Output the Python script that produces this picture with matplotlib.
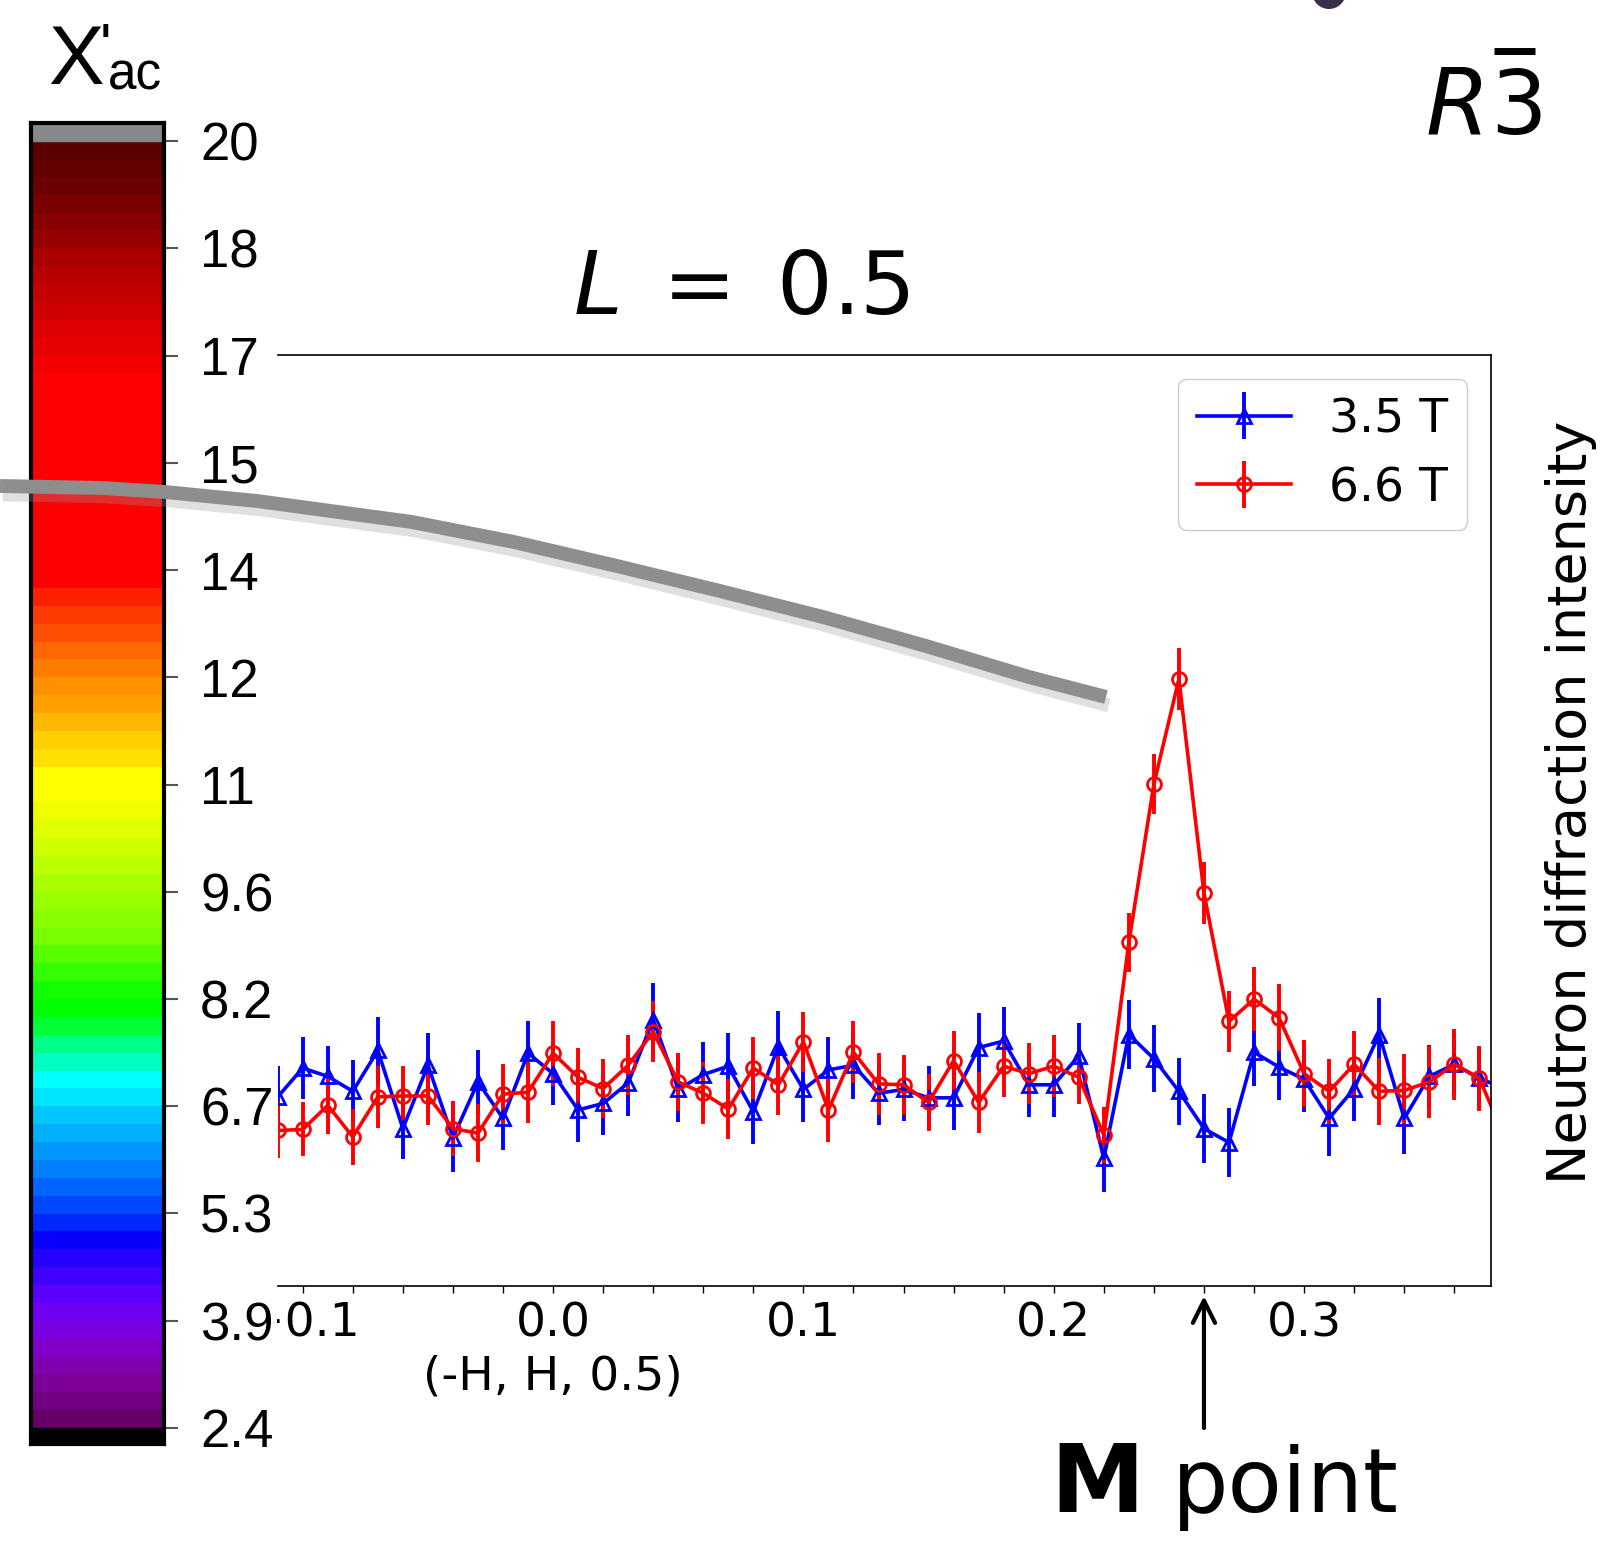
import numpy as np
import matplotlib
matplotlib.use("Agg")
import matplotlib.pyplot as plt
import matplotlib.patheffects as pe
from matplotlib import transforms
from matplotlib.colors import to_rgb
from matplotlib.lines import Line2D
from matplotlib.patches import Ellipse, Rectangle
from matplotlib.ticker import MultipleLocator

# ---- data (arbitrary intensity units) ----
h = [-0.11, -0.10, -0.09, -0.08, -0.07, -0.06, -0.05, -0.04, -0.03, -0.02,
     -0.01, 0.00, 0.01, 0.02, 0.03, 0.04, 0.05, 0.06, 0.07, 0.08,
     0.09, 0.10, 0.11, 0.12, 0.13, 0.14, 0.15, 0.16, 0.17, 0.18,
     0.19, 0.20, 0.21, 0.22, 0.23, 0.24, 0.25, 0.26, 0.27, 0.28,
     0.29, 0.30, 0.31, 0.32, 0.33, 0.34, 0.35, 0.36, 0.37, 0.38]

int_35T = [20.3, 23.4, 22.5, 20.9, 25.3, 16.9, 23.7, 15.9, 21.9, 18.0,
           25.0, 22.8, 18.9, 19.6, 21.8, 28.6, 21.1, 22.7, 23.6, 18.7,
           25.7, 21.1, 23.2, 23.7, 20.7, 21.1, 20.2, 20.2, 25.6, 26.3,
           21.6, 21.6, 24.7, 13.7, 27.0, 24.4, 20.9, 16.9, 15.4, 25.1,
           23.5, 22.2, 18.0, 21.2, 27.0, 18.0, 22.5, 23.8, 22.3, 21.2]
err_35T = [3.3, 3.3, 3.3, 3.4, 3.6, 3.3, 3.5, 3.7, 3.4, 3.4,
           3.5, 3.4, 3.4, 3.4, 3.5, 3.9, 3.5, 3.5, 3.6, 3.5,
           3.8, 3.5, 3.5, 3.6, 3.4, 3.4, 3.4, 3.5, 3.7, 3.7,
           3.5, 3.5, 3.5, 3.6, 3.7, 3.6, 3.6, 3.7, 3.7, 3.6,
           3.5, 3.5, 4.0, 3.5, 3.9, 3.8, 3.4, 3.3, 3.3, 3.3]

int_66T = [16.7, 16.8, 19.4, 16.0, 20.3, 20.4, 20.4, 16.9, 16.4, 20.6,
           20.8, 25.0, 22.4, 21.2, 23.7, 27.3, 21.9, 20.7, 19.0, 23.4,
           21.6, 26.2, 18.9, 25.1, 21.7, 21.6, 19.7, 24.2, 19.7, 23.6,
           22.8, 23.6, 22.4, 16.2, 36.9, 53.9, 65.2, 42.2, 28.4, 30.8,
           28.8, 22.8, 20.9, 23.8, 20.9, 21.0, 21.9, 23.8, 22.3, 16.0]
err_66T = [3.0, 2.9, 3.1, 3.0, 3.3, 3.2, 3.1, 3.0, 3.1, 3.2,
           3.3, 3.5, 3.2, 3.2, 3.2, 3.3, 3.1, 3.3, 3.2, 3.3,
           3.2, 3.2, 3.4, 3.3, 3.3, 3.2, 3.1, 3.2, 3.3, 3.3,
           3.3, 3.3, 2.9, 3.0, 3.2, 3.2, 3.3, 3.3, 3.3, 3.4,
           3.6, 3.6, 3.5, 3.6, 3.6, 3.9, 3.9, 3.8, 3.5, 3.5]

xticks = [-0.1, 0.0, 0.1, 0.2, 0.3]
xtick_labels = ["\u22120.1", "0.0", "0.1", "0.2", "0.3"]
m_point_h = 0.26

# colour scale of the chi'_ac bar, bottom band first (6 bands per tick step)
cbar_labels = ["2.4", "3.9", "5.3", "6.7", "8.2", "9.6", "11", "12",
               "14", "15", "17", "18", "20"]
cbar_colors = [
    "#640068", "#700080", "#7a0098", "#8000b0", "#8000c8", "#7a00e0",
    "#7000f0", "#5c00ff", "#4000ff", "#2400ff", "#0800ff", "#0028ff",
    "#0048ff", "#0064ff", "#0080ff", "#0098ff", "#00b0ff", "#00c8ff",
    "#00e6ff", "#00ffff", "#00ffc0", "#00ff88", "#00ff33", "#00ff00",
    "#11ff00", "#33ff00", "#55ff00", "#77ff00", "#88ff00", "#99ff00",
    "#a8ff00", "#bbff00", "#d0ff00", "#e0ff00", "#f0ff00", "#ffff00",
    "#ffff00", "#ffe000", "#ffd000", "#ffb800", "#ffa000", "#ff9000",
    "#ff7c00", "#ff6800", "#ff5000", "#ff3c00", "#ff2000", "#ff0000",
    "#ff0000", "#ff0000", "#ff0000", "#ff0000", "#ff0000", "#ff0000",
    "#ff0000", "#ff0000", "#ff0000", "#ff0000", "#ff0000", "#f40000",
    "#e60000", "#dc0000", "#d00000", "#c40000", "#b80000", "#aa0000",
    "#960000", "#880000", "#7a0000", "#6c0000", "#620000", "#5a0000",
]

# hand-drawn grey stroke (figure pixels, y from top)
stroke_px = [(0, 486), (103, 488), (165, 492), (257, 501), (412, 522),
             (514, 542), (617, 566), (720, 591), (823, 617), (926, 646),
             (1029, 677), (1106, 697)]

W, HT = 1613, 1541


def fx(px):
    return px / W


def fy(py):
    return 1 - py / HT


fig = plt.figure(figsize=(W / 100, HT / 100), dpi=100)

# ---- main panel ----
ax = fig.add_axes([fx(277.7), fy(1285.9), (1490.6 - 277.7) / W, (1285.9 - 354.9) / HT])
ax.errorbar(h, int_35T, yerr=err_35T, color="blue", marker="^", ms=10,
            mfc="none", mec="blue", mew=2, lw=2.6, elinewidth=2.8, capsize=0,
            label="3.5 T")
ax.errorbar(h, int_66T, yerr=err_66T, color="red", marker="o", ms=10,
            mfc="none", mec="red", mew=2, lw=2.6, elinewidth=2.8, capsize=0,
            label="6.6 T")
ax.set_xlim(-0.11, 0.3745)
ax.set_ylim(0, 100)
ax.set_yticks([])
ax.spines["left"].set_visible(False)
for s in ["top", "right", "bottom"]:
    ax.spines[s].set_linewidth(1.2)
ax.set_xticks(xticks)
ax.set_xticklabels(xtick_labels)
ax.xaxis.set_minor_locator(MultipleLocator(0.02))
ax.tick_params(axis="x", which="both", direction="out", length=5, width=1,
               labelsize=34, pad=6)
leg = ax.legend(loc="upper right", fontsize=34, handlelength=2.0,
                fancybox=True, edgecolor="#cccccc", framealpha=1)

blend = transforms.blended_transform_factory(ax.transData, fig.transFigure)
ax.text(0.0, fy(1377), "(-H, H, 0.5)", transform=blend, ha="center",
        va="center", fontsize=34)
ax.annotate("", xy=(m_point_h, fy(1296)), xytext=(m_point_h, fy(1428)),
            xycoords=blend, textcoords=blend, annotation_clip=False,
            arrowprops=dict(arrowstyle="->", lw=3, mutation_scale=40,
                            color="black", shrinkA=0, shrinkB=0))

# ---- pasted colour bar (covers the left of the panel) ----
fig.add_artist(Rectangle((0, 0), fx(277), 1, transform=fig.transFigure,
                         facecolor="white", edgecolor="none", zorder=2))
cax = fig.add_axes([fx(31), fy(1444), (164 - 31) / W, (1444 - 123) / HT])
cax.set_zorder(3)
band_rgb = np.array([to_rgb(c) for c in cbar_colors]).reshape(-1, 1, 3)
cax.imshow(band_rgb, origin="lower", aspect="auto", extent=[0, 1, 0, 12],
           interpolation="nearest")
cax.axhspan(12, 12.3, color="#888888")
cax.axhspan(-0.3, 0, color="black")
cax.set_xlim(0, 1)
cax.set_ylim(-0.15, 12.17)
cax.set_xticks([])
for s in cax.spines.values():
    s.set_linewidth(3)
cax.yaxis.tick_right()
cax.set_yticks(range(len(cbar_labels)))
cax.set_yticklabels(cbar_labels, fontfamily="Liberation Sans")
cax.tick_params(axis="y", length=10, width=1.5, color="#555555", pad=16,
                labelsize=38)

fig.text(fx(48), fy(84), "X", fontsize=60, fontfamily="Liberation Sans",
         va="baseline", zorder=4)
fig.text(fx(100), fy(22), "'", fontsize=44, fontfamily="Liberation Sans",
         va="top", zorder=4)
fig.text(fx(108), fy(89), "ac", fontsize=37, fontfamily="Liberation Sans",
         va="baseline", zorder=4)

# ---- annotations ----
fig.text(fx(741), fy(314), r"$L\;=\;0.5$", fontsize=63, ha="center",
         va="baseline")

# space group R-3: italic R, upright 3 with a bar
fig.text(fx(1425), fy(134), r"$R$", fontsize=66, ha="left", va="baseline")
fig.text(fx(1490), fy(134), "3", fontsize=64, ha="left", va="baseline")
fig.add_artist(Line2D([fx(1494), fx(1535)], [fy(51), fy(51)],
                      transform=fig.transFigure, color="black", lw=5,
                      solid_capstyle="butt"))

fig.text(fx(1094), fy(1512), r"$\mathbf{M}$", fontsize=68, ha="center",
         va="baseline")
fig.text(fx(1285), fy(1512), "point", fontsize=64, ha="center",
         va="baseline")
fig.text(fx(1571), fy(802), "Neutron diffraction intensity", rotation=90,
         ha="center", va="center", fontsize=39)

fig.add_artist(Ellipse((fx(1329), fy(-8)), 34 / W, 34 / HT,
                       transform=fig.transFigure, facecolor="#3a2f4a",
                       edgecolor="none", zorder=5))

sx = [fx(p[0]) for p in stroke_px]
sy = [fy(p[1]) for p in stroke_px]
stroke = Line2D(sx, sy, transform=fig.transFigure, color="#8e8e8e", lw=10,
                solid_capstyle="butt", zorder=10,
                path_effects=[pe.SimpleLineShadow(offset=(2, -6),
                                                  shadow_color="#999999",
                                                  alpha=0.3),
                              pe.Normal()])
fig.add_artist(stroke)

fig.savefig("out.png", dpi=100)
